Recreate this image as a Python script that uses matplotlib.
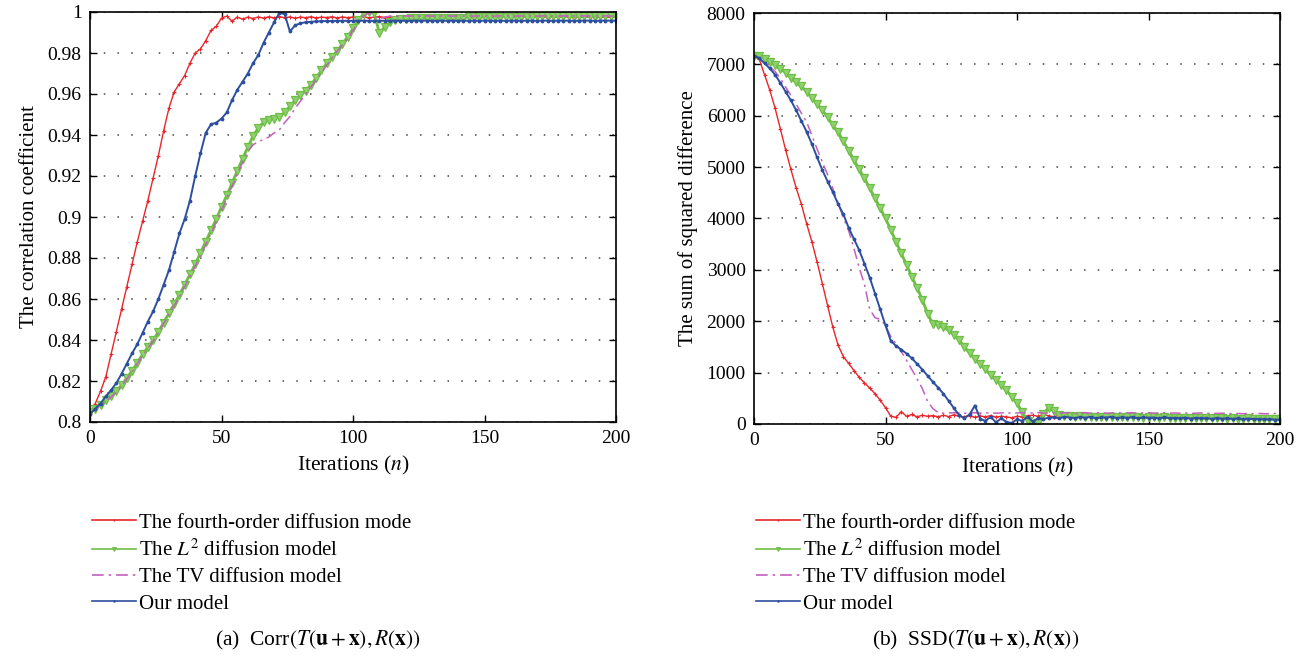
import matplotlib
matplotlib.use("Agg")
import matplotlib.pyplot as plt

plt.rcParams['font.family'] = ['Liberation Serif', 'DejaVu Serif']
plt.rcParams['mathtext.fontset'] = 'stix'

iterations = list(range(0, 201, 2))

corr_red = [0.805, 0.809, 0.815, 0.822, 0.833, 0.844, 0.855, 0.866, 0.877, 0.888, 0.898,
            0.908, 0.919, 0.930, 0.942, 0.953, 0.961, 0.965, 0.969, 0.975, 0.980,
            0.982, 0.986, 0.991, 0.993, 0.997, 0.998, 0.9955, 0.9975, 0.9965, 0.9975,
            0.9968, 0.9976, 0.9970, 0.9977, 0.9971, 0.9978, 0.9972, 0.9976, 0.9970, 0.9975,
            0.9972, 0.9977, 0.9971, 0.9975, 0.9973, 0.9977, 0.9971, 0.9976, 0.9972, 0.9976,
            0.9973, 0.9977, 0.9972, 0.9975, 0.9978, 0.9973, 0.9976, 0.9972, 0.9977, 0.9974,
            0.9976, 0.9973, 0.9977, 0.9974, 0.9976, 0.9973, 0.9977, 0.9975, 0.9973, 0.9976,
            0.9974, 0.9977, 0.9973, 0.9976, 0.9974, 0.9977, 0.9975, 0.9973, 0.9976, 0.9974,
            0.9976, 0.9973, 0.9975, 0.9977, 0.9974, 0.9976, 0.9973, 0.9975, 0.9976, 0.9974,
            0.9975, 0.9973, 0.9976, 0.9974, 0.9975, 0.9973, 0.9975, 0.9974, 0.9975, 0.9974]

corr_l2 = [0.805, 0.8065, 0.8085, 0.8105, 0.8128, 0.815, 0.818, 0.8215, 0.825, 0.829, 0.833,
           0.8365, 0.840, 0.844, 0.8485, 0.853, 0.8575, 0.862, 0.867, 0.872, 0.877,
           0.8825, 0.888, 0.8935, 0.899, 0.905, 0.9105, 0.9165, 0.9225, 0.9285, 0.934,
           0.9395, 0.9435, 0.9462, 0.9472, 0.948, 0.949, 0.951, 0.954, 0.957, 0.9595,
           0.9615, 0.9645, 0.968, 0.9715, 0.975, 0.978, 0.981, 0.9845, 0.988, 0.992,
           0.996, 0.999, 1.000, 0.9995, 0.990, 0.9925, 0.995, 0.996, 0.9965, 0.9968,
           0.9969, 0.9969, 0.9970, 0.9970, 0.9971, 0.9971, 0.9972, 0.9972, 0.9972, 0.9973,
           0.9973, 0.9974, 0.9974, 0.9975, 0.9975, 0.9975, 0.9976, 0.9976, 0.9977, 0.9977,
           0.9977, 0.9978, 0.9978, 0.9978, 0.9979, 0.9979, 0.9979, 0.9980, 0.9980, 0.9980,
           0.9980, 0.9981, 0.9981, 0.9981, 0.9981, 0.9982, 0.9982, 0.9982, 0.9982, 0.9982]

corr_tv = [0.8045, 0.806, 0.808, 0.810, 0.8122, 0.8145, 0.8175, 0.821, 0.8245, 0.8285, 0.8325,
           0.836, 0.8395, 0.8435, 0.848, 0.8523, 0.8567, 0.8612, 0.866, 0.871, 0.876,
           0.881, 0.8865, 0.892, 0.8975, 0.9033, 0.909, 0.915, 0.921, 0.9265, 0.932,
           0.9352, 0.9368, 0.9378, 0.939, 0.941, 0.9425, 0.946, 0.949, 0.953, 0.9565,
           0.960, 0.9635, 0.967, 0.9705, 0.974, 0.9775, 0.981, 0.984, 0.987, 0.991,
           0.995, 0.998, 0.9995, 0.998, 0.9965, 0.9975, 0.998, 0.998, 0.998, 0.9981,
           0.9980, 0.9981, 0.9980, 0.9981, 0.9980, 0.9981, 0.9980, 0.9981, 0.9980, 0.9981,
           0.9980, 0.9981, 0.9980, 0.9981, 0.9980, 0.9981, 0.9980, 0.9981, 0.9980, 0.9981,
           0.9980, 0.9981, 0.9980, 0.9981, 0.9980, 0.9981, 0.9980, 0.9981, 0.9980, 0.9981,
           0.9980, 0.9981, 0.9980, 0.9981, 0.9980, 0.9981, 0.9980, 0.9981, 0.9980, 0.9981]

corr_ours = [0.804, 0.8065, 0.809, 0.8125, 0.8155, 0.819, 0.8235, 0.8285, 0.8335, 0.838, 0.8435,
             0.849, 0.854, 0.860, 0.867, 0.874, 0.883, 0.892, 0.899, 0.908, 0.920,
             0.931, 0.941, 0.9452, 0.946, 0.948, 0.951, 0.957, 0.962, 0.966, 0.970,
             0.975, 0.979, 0.985, 0.990, 0.995, 0.9995, 0.999, 0.9905, 0.9935, 0.9945,
             0.995, 0.9952, 0.9954, 0.9955, 0.9956, 0.9956, 0.9957, 0.9957, 0.9957, 0.9957,
             0.9957, 0.9958, 0.9957, 0.9957, 0.9958, 0.9957, 0.9957, 0.9958, 0.9957, 0.9957,
             0.9957, 0.9958, 0.9957, 0.9958, 0.9957, 0.9957, 0.9958, 0.9957, 0.9958, 0.9957,
             0.9958, 0.9957, 0.9958, 0.9957, 0.9958, 0.9958, 0.9957, 0.9958, 0.9957, 0.9958,
             0.9958, 0.9957, 0.9958, 0.9958, 0.9957, 0.9958, 0.9958, 0.9957, 0.9958, 0.9958,
             0.9958, 0.9957, 0.9958, 0.9958, 0.9958, 0.9957, 0.9958, 0.9958, 0.9958, 0.9958]

ssd_red = [7150, 7100, 6800, 6500, 6150, 5750, 5340, 4960, 4600, 4280, 3900,
           3550, 3150, 2730, 2300, 1880, 1530, 1310, 1180, 1040, 910,
           800, 700, 590, 460, 320, 150, 130, 240, 150, 185,
           140, 170, 150, 165, 140, 170, 145, 180, 150, 140,
           165, 130, 155, 140, 165, 135, 150, 140, 120, 150,
           140, 160, 170, 150, 185, 160, 140, 170, 150, 165,
           145, 160, 150, 165, 140, 155, 160, 145, 150, 140,
           155, 145, 150, 140, 155, 135, 150, 140, 145, 135,
           145, 130, 140, 135, 130, 140, 125, 135, 130, 125,
           130, 120, 125, 115, 125, 115, 120, 110, 115, 110]

ssd_l2 = [7170, 7170, 7110, 7040, 6980, 6910, 6840, 6740, 6650, 6570, 6470,
          6350, 6230, 6110, 5970, 5820, 5680, 5500, 5320, 5140, 4960,
          4780, 4590, 4400, 4200, 4000, 3780, 3550, 3320, 3100, 2870,
          2650, 2420, 2150, 1950, 1920, 1880, 1820, 1740, 1640, 1500,
          1380, 1270, 1160, 1070, 950, 860, 760, 660, 530, 400,
          230, 60, 0, 20, 200, 320, 250, 180, 160, 150,
          145, 150, 140, 145, 135, 140, 145, 135, 140, 130,
          135, 130, 140, 125, 130, 135, 125, 130, 120, 125,
          120, 125, 115, 120, 115, 110, 120, 110, 115, 105,
          110, 105, 100, 110, 100, 105, 95, 100, 95, 100]

ssd_tv = [7170, 7120, 7040, 6960, 6860, 6730, 6560, 6400, 6230, 6050, 5880,
          5620, 5350, 5100, 4850, 4580, 4300, 4010, 3760, 3420, 3040,
          2720, 2230, 2070, 2035, 1920, 1700, 1560, 1410, 1240, 1060,
          880, 690, 440, 300, 225, 210, 215, 220, 215, 210,
          215, 220, 210, 215, 220, 210, 215, 220, 210, 215,
          220, 210, 215, 220, 210, 215, 220, 210, 215, 220,
          210, 215, 220, 210, 215, 220, 210, 215, 220, 210,
          215, 220, 210, 215, 220, 210, 215, 220, 210, 215,
          210, 215, 205, 210, 215, 205, 210, 205, 210, 205,
          200, 205, 200, 205, 200, 205, 200, 200, 205, 200]

ssd_ours = [7170, 7120, 7020, 6920, 6800, 6640, 6470, 6300, 6110, 5900, 5690,
            5450, 5190, 4940, 4720, 4510, 4280, 4080, 3820, 3600, 3385,
            3120, 2850, 2540, 2230, 1920, 1620, 1520, 1450, 1370, 1280,
            1170, 1060, 940, 820, 710, 590, 450, 310, 170, 110,
            190, 360, 100, 60, 140, 30, 110, 40, 20, 90,
            60, 140, 50, 110, 100, 120, 130, 110, 140, 125,
            115, 135, 120, 140, 110, 130, 125, 140, 115, 130,
            120, 135, 110, 130, 120, 125, 110, 130, 115, 120,
            110, 125, 105, 120, 110, 115, 100, 115, 105, 110,
            100, 110, 95, 105, 95, 100, 90, 95, 85, 85]

labels = ["The fourth-order diffusion mode", r"The $L^2$ diffusion model",
          "The TV diffusion model", "Our model"]
corr_ticks = [0.8, 0.82, 0.84, 0.86, 0.88, 0.9, 0.92, 0.94, 0.96, 0.98, 1.0]
corr_ticklabels = ["0.8", "0.82", "0.84", "0.86", "0.88", "0.9", "0.92", "0.94", "0.96", "0.98", "1"]
ssd_ticks = [0, 1000, 2000, 3000, 4000, 5000, 6000, 7000, 8000]
x_ticks = [0, 50, 100, 150, 200]

RED = '#e8262b'
GREEN = '#6dbe45'
MAG = '#c45fbf'
BLUE = '#2d4fa0'

W, H = 1311, 661
fig = plt.figure(figsize=(W / 100, H / 100), dpi=100)

def frac(x0, y0, x1, y1):
    return [x0 / W, 1 - y1 / H, (x1 - x0) / W, (y1 - y0) / H]

ax1 = fig.add_axes(frac(90, 12, 616, 422))
ax2 = fig.add_axes(frac(754, 13, 1280, 424))

def draw(ax, r, g, t, b):
    l1, = ax.plot(iterations, r, color=RED, lw=1.0, marker='+', ms=3.5, mew=0.8)
    l2, = ax.plot(iterations, g, color=GREEN, lw=2.0, marker='v', ms=6,
                  mfc='#8fd06f', mec=GREEN, mew=0.9)
    l3, = ax.plot(iterations, t, color=MAG, lw=1.1, linestyle=(0, (7, 3, 1.5, 3)))
    l4, = ax.plot(iterations, b, color=BLUE, lw=1.4, marker='.', ms=3.5)
    return [l1, l2, l3, l4]

def style(ax):
    ax.set_xlim(0, 200)
    ax.set_xticks(x_ticks)
    ax.tick_params(direction='in', top=True, right=True, length=5, width=1.0,
                   labelsize=14, pad=6)
    ax.yaxis.grid(True, linestyle=(0, (1, 8)), color='#444444', linewidth=1.1)
    for s in ax.spines.values():
        s.set_linewidth(1.2)
    ax.set_xlabel(r"Iterations ($n$)", fontsize=15.5, labelpad=5)

h1 = draw(ax1, corr_red, corr_l2, corr_tv, corr_ours)
ax1.set_ylim(0.8, 1.0)
ax1.set_yticks(corr_ticks)
ax1.set_yticklabels(corr_ticklabels)
style(ax1)
ax1.set_ylabel("The correlation coefficient", fontsize=15, labelpad=6)

h2 = draw(ax2, ssd_red, ssd_l2, ssd_tv, ssd_ours)
ax2.set_ylim(0, 8000)
ax2.set_yticks(ssd_ticks)
style(ax2)
ax2.set_ylabel("The sum of squared difference", fontsize=15, labelpad=6)

for handles, x0 in ((h1, 92), (h2, 756)):
    leg = fig.legend(handles, labels, loc='upper left', bbox_to_anchor=(x0 / W, 1 - 513 / H),
                     frameon=False, fontsize=15, numpoints=1, handlelength=2.1,
                     handletextpad=0.15, labelspacing=0.33, borderpad=0, borderaxespad=0,
                     markerscale=0.45)
    for line in leg.get_lines():
        line.set_linewidth(1.2)

fig.text(318 / W, 1 - 640 / H, r"(a)  Corr$(T(\mathbf{u} + \mathbf{x}), R(\mathbf{x}))$",
         ha='center', va='center', fontsize=15.5)
fig.text(976 / W, 1 - 640 / H, r"(b)  SSD$(T(\mathbf{u} + \mathbf{x}), R(\mathbf{x}))$",
         ha='center', va='center', fontsize=15.5)

fig.savefig("out.png", dpi=100)
